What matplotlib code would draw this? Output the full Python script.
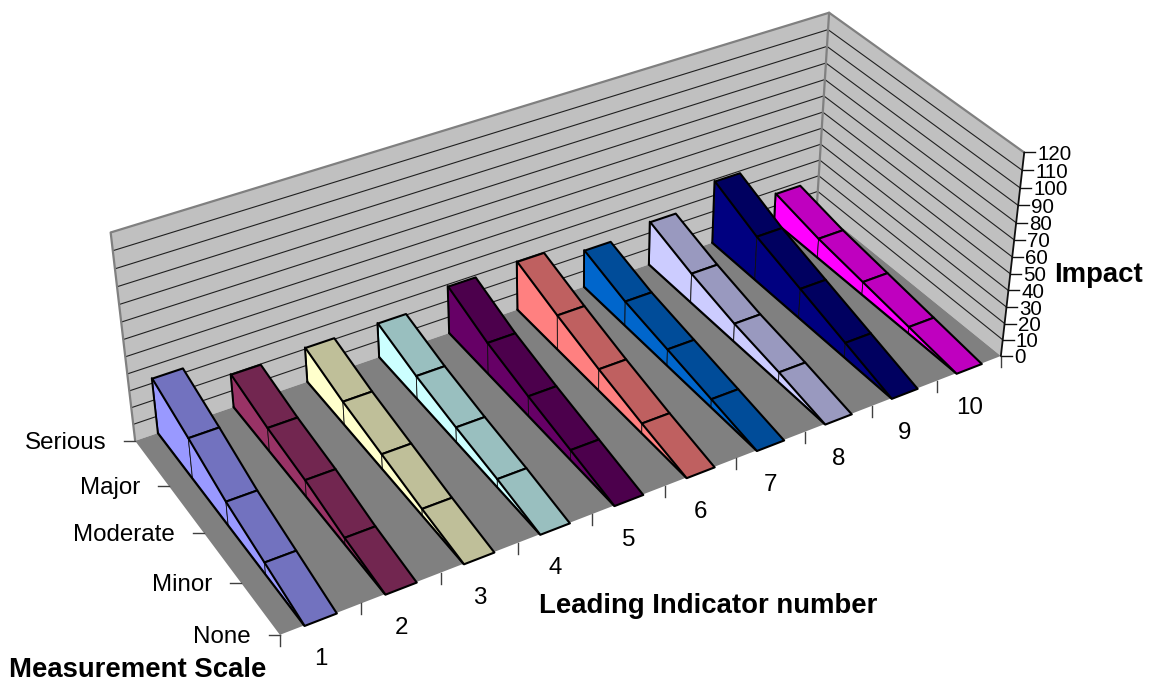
import numpy as np
import matplotlib
matplotlib.use("Agg")
import matplotlib.pyplot as plt
from matplotlib.lines import Line2D
from mpl_toolkits.mplot3d.art3d import Poly3DCollection, Line3DCollection

plt.rcParams['font.family'] = ['Liberation Sans', 'DejaVu Sans']

# ---------- data ----------
indicators = ['1', '2', '3', '4', '5', '6', '7', '8', '9', '10']
scale_levels = ['None', 'Minor', 'Moderate', 'Major', 'Serious']
impact_ticks = list(range(0, 121, 10))

impact_1 = [0, 7, 14, 24, 33]
impact_2 = [0, 4, 10, 14, 20]
impact_3 = [0, 4, 9, 14, 21]
impact_4 = [0, 5, 9, 14, 21]
impact_5 = [0, 6, 12, 19, 29]
impact_6 = [0, 6, 13, 21, 30]
impact_7 = [0, 5, 10, 15, 23]
impact_8 = [0, 6, 11, 18, 27]
impact_9 = [0, 9, 18, 27, 39]
impact_10 = [0, 4, 8, 12, 18]
all_series = [impact_1, impact_2, impact_3, impact_4, impact_5,
              impact_6, impact_7, impact_8, impact_9, impact_10]

side_colors = ['#9999FF', '#993366', '#FFFFCC', '#CCFFFF', '#660066',
               '#FF8080', '#0066CC', '#CCCCFF', '#000080', '#FF00FF']
top_colors = ['#7272BF', '#722650', '#BFBF99', '#99BFBF', '#4C004C',
              '#BF6060', '#004C99', '#9999BF', '#000060', '#BF00BF']

W, H = 1151, 682
XMAX, YMAX, ZMAX = 10.0, 4.0, 120.0

# ---------- camera calibrated to the chart's box corners (world -> pixel) ----------
corners = [
    ((0, 0, 0), (280, 635)),
    ((XMAX, 0, 0), (1000.7, 356)),
    ((0, YMAX, 0), (135, 440.5)),
    ((XMAX, YMAX, 0), (817, 207)),
    ((0, YMAX, ZMAX), (110.7, 232.7)),
    ((XMAX, 0, ZMAX), (1024.3, 152.3)),
    ((XMAX, YMAX, ZMAX), (829, 12.7)),
]
S = np.diag([1 / XMAX, 1 / YMAX, 1 / ZMAX, 1.0])
rows = []
for (wx, wy, wz), (px, py) in corners:
    v = np.array([wx / XMAX, wy / YMAX, wz / ZMAX, 1.0])
    u, t = px / 1000.0, (H - py) / 1000.0
    rows.append(np.r_[v, np.zeros(4), -u * v])
    rows.append(np.r_[np.zeros(4), v, -t * v])
P = np.linalg.svd(np.array(rows))[2][-1].reshape(3, 4)
P = np.diag([1000.0, 1000.0, 1.0]) @ P @ S
centre = np.linalg.svd(P)[2][-1]
M = np.vstack([P[0], P[1], centre, P[2]])


def project(x, y, z):
    X = P @ np.array([x, y, z, 1.0])
    return X[0] / X[2], X[1] / X[2]


# ---------- figure ----------
fig = plt.figure(figsize=(W / 100, H / 100), dpi=100, facecolor='white')
ax = fig.add_axes([0, 0, 1, 1], projection='3d')
ax.apply_aspect = lambda position=None: None
ax.get_proj = lambda: M
ax.computed_zorder = False
ax.set_axis_off()
ax.viewLim.intervalx = (0, W)
ax.viewLim.intervaly = (0, H)

zo = [1]


def next_z():
    zo[0] += 1
    return zo[0]


def face(verts, fc, ec='none', lw=0.0):
    p = Poly3DCollection([verts], facecolors=fc, edgecolors=ec, linewidths=lw,
                         zorder=next_z())
    ax.add_collection3d(p, autolim=False)


def line3(xs, ys, zs, color='black', lw=1.0):
    seg = [list(zip(xs, ys, zs))]
    c = Line3DCollection(seg, colors=color, linewidths=lw, zorder=next_z(),
                         capstyle='round', joinstyle='round')
    ax.add_collection3d(c, autolim=False)


# walls and floor
face([(0, YMAX, 0), (XMAX, YMAX, 0), (XMAX, YMAX, ZMAX), (0, YMAX, ZMAX)], '#C0C0C0')
face([(XMAX, YMAX, 0), (XMAX, 0, 0), (XMAX, 0, ZMAX), (XMAX, YMAX, ZMAX)], '#C0C0C0')
face([(0, 0, 0), (XMAX, 0, 0), (XMAX, YMAX, 0), (0, YMAX, 0)], '#808080')

for v in impact_ticks[1:-1]:
    line3([0, XMAX, XMAX], [YMAX, YMAX, 0], [v, v, v], color='#202020', lw=0.8)

line3([0, 0, XMAX, XMAX], [YMAX, YMAX, YMAX, 0], [0, ZMAX, ZMAX, ZMAX], color='#808080', lw=1.6)
line3([XMAX, XMAX], [YMAX, YMAX], [0, ZMAX], color='#808080', lw=1.6)
line3([XMAX, XMAX], [0, 0], [0, ZMAX], color='#101010', lw=1.3)

# ribbons, back-right first
for idx in range(9, -1, -1):
    vals = all_series[idx]
    x0, x1 = idx + 0.295, idx + 0.69
    for j in range(3, -1, -1):
        y0, y1 = j, j + 1
        z0, z1 = vals[j], vals[j + 1]
        face([(x0, y0, 0), (x0, y1, 0), (x0, y1, z1), (x0, y0, z0)],
             side_colors[idx], ec='#101010', lw=0.6)
    line3([x0, x0], [YMAX, YMAX], [0, vals[-1]], lw=1.4)
    line3([x0, x0], [0, YMAX], [0, 0], lw=1.6)
    for j in range(3, -1, -1):
        y0, y1 = j, j + 1
        z0, z1 = vals[j], vals[j + 1]
        face([(x0, y0, z0), (x1, y0, z0), (x1, y1, z1), (x0, y1, z1)],
             top_colors[idx], ec='black', lw=1.5)

tick_z = next_z()


def tick(px, py, dx, dy, color='#404040', lw=1.0):
    ax.add_artist(Line2D([px, px + dx], [py, py + dy], color=color, lw=lw,
                         zorder=tick_z))


def label(px, py, dx, dy, s, ha, va='center', size=17.4):
    ax.annotate(s, xy=(px, py), xycoords='data', xytext=(dx, dy),
                textcoords='offset pixels', ha=ha, va=va, fontsize=size,
                color='black', zorder=tick_z, annotation_clip=False)


# x axis ticks and labels
for i in range(len(indicators) + 1):
    px, py = project(i, 0, 0)
    tick(px, py, 0, -11)
for i, s in enumerate(indicators):
    px, py = project(i + 0.5, 0, 0)
    label(px, py, 0, -40, s, 'center')

# depth axis ticks and labels
for j, s in enumerate(scale_levels):
    px, py = project(0, j, 0)
    tick(px, py, -11, 0)
    label(px, py, -29, -2, s, 'right')

# impact axis ticks and labels
for v in impact_ticks:
    px, py = project(XMAX, 0, v)
    tick(px, py, 11, 0, color='#101010')
    label(px, py, 13, -2, str(v), 'left', size=14.8)

# axis titles
title_kw = dict(fontsize=19.8, fontweight='bold', va='center', color='black')
fig.text(708 / W, 1 - 606 / H, 'Leading Indicator number', ha='center', **title_kw)
fig.text(138 / W, 1 - 670 / H, 'Measurement Scale', ha='center', **title_kw)
fig.text(1099 / W, 1 - 275 / H, 'Impact', ha='center', **title_kw)

fig.savefig('out.png', dpi=100, facecolor='white')
